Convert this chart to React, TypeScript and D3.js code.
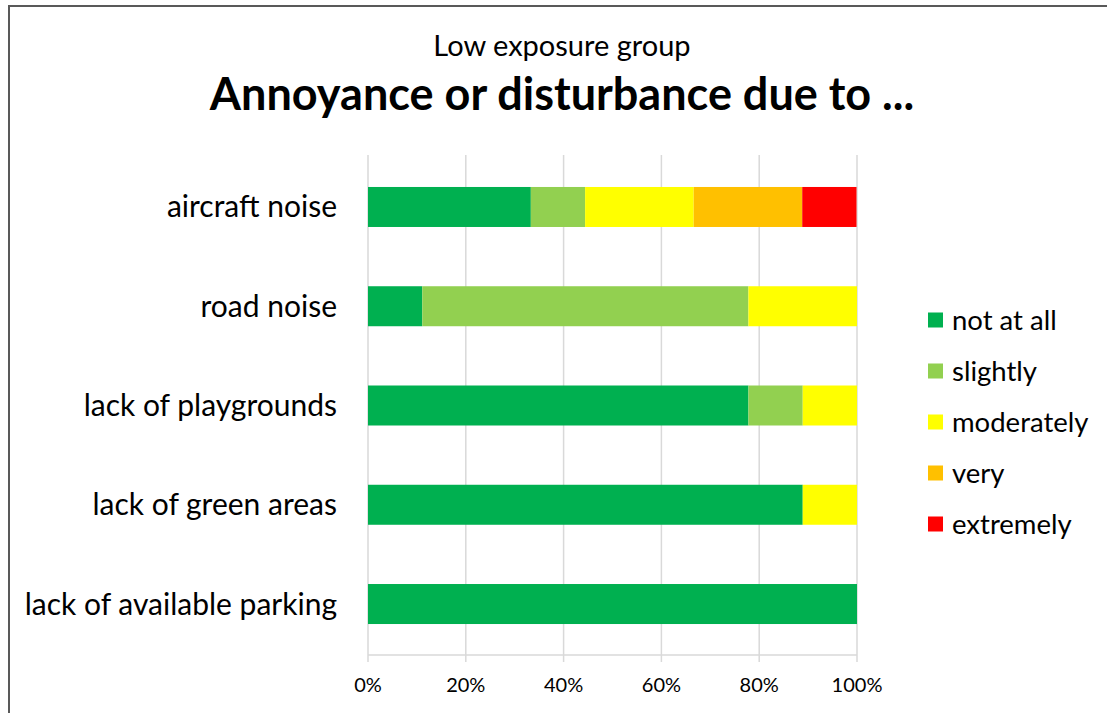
import React from "react";
import * as d3 from "d3";

const categories = [
  "aircraft noise",
  "road noise",
  "lack of playgrounds",
  "lack of green areas",
  "lack of available parking",
];
const seriesNames = ["not at all", "slightly", "moderately", "very", "extremely"];
const seriesColors = ["#00B050", "#92D050", "#FFFF00", "#FFC000", "#FF0000"];
// shares (fractions) per category, order of seriesNames
const notAtAll = [0.333, 0.111, 0.778, 0.889, 1.0];
const slightly = [0.111, 0.667, 0.111, 0.0, 0.0];
const moderately = [0.222, 0.222, 0.111, 0.111, 0.0];
const very = [0.222, 0.0, 0.0, 0.0, 0.0];
const extremely = [0.111, 0.0, 0.0, 0.0, 0.0];
const xTicks = [0, 0.2, 0.4, 0.6, 0.8, 1.0];
const subtitle = "Low exposure group";
const title = "Annoyance or disturbance due to ...";

const W = 1107;
const H = 713;
const FONT = "Lato, 'Open Sans', sans-serif";

export default function App() {
  const rows = categories.map((c, i) => ({
    cat: c,
    "not at all": notAtAll[i],
    slightly: slightly[i],
    moderately: moderately[i],
    very: very[i],
    extremely: extremely[i],
  }));
  const stack = d3.stack<any>().keys(seriesNames);
  const layers = stack(rows);

  const x = d3.scaleLinear().domain([0, 1]).range([368, 857]);
  const y = d3.scaleBand().domain(categories).range([157, 654]).paddingInner(0.597).paddingOuter(0.302);
  const color = d3.scaleOrdinal<string, string>().domain(seriesNames).range(seriesColors);
  const fmt = d3.format(".0%");

  const legendY = d3.scalePoint().domain(seriesNames).range([320, 524]);

  return (
    <svg
      width={W}
      height={H}
      style={{ position: "absolute", left: 0, top: 0, display: "block", background: "#fff" }}
    >
      <rect x={0} y={0} width={W} height={H} fill="#fff" />
      <rect x={9} y={6} width={W + 20} height={H + 20} fill="none" stroke="#595959" strokeWidth={2} />
      <text x={562} y={56} textAnchor="middle" fontFamily={FONT} fontSize={29} fill="#000">
        {subtitle}
      </text>
      <text x={562} y={110} textAnchor="middle" fontFamily={FONT} fontSize={45} fontWeight="bold" fill="#000">
        {title}
      </text>
      {/* gridlines */}
      {xTicks.map((t) => (
        <line key={t} x1={x(t)} x2={x(t)} y1={155} y2={662} stroke="#d9d9d9" strokeWidth={1.5} />
      ))}
      <line x1={x(0)} x2={x(1)} y1={655} y2={655} stroke="#d9d9d9" strokeWidth={1.5} />
      {/* bars */}
      {layers.map((layer) => (
        <g key={layer.key} fill={color(layer.key)}>
          {layer.map((d, i) =>
            d[1] - d[0] > 0 ? (
              <rect
                key={i}
                x={x(d[0])}
                y={y(categories[i])}
                width={x(d[1]) - x(d[0])}
                height={y.bandwidth()}
              />
            ) : null
          )}
        </g>
      ))}
      {/* category labels */}
      {categories.map((c) => (
        <text
          key={c}
          x={337}
          y={(y(c) as number) + y.bandwidth() / 2}
          dy="0.35em"
          textAnchor="end"
          fontFamily={FONT}
          fontSize={30}
          fill="#000"
        >
          {c}
        </text>
      ))}
      {/* tick labels */}
      {xTicks.map((t) => (
        <text key={t} x={x(t)} y={692} textAnchor="middle" fontFamily={FONT} fontSize={20} fill="#000">
          {fmt(t)}
        </text>
      ))}
      {/* legend */}
      {seriesNames.map((s) => (
        <g key={s} transform={`translate(928, ${legendY(s)})`}>
          <rect x={0} y={-7.5} width={15} height={15} fill={color(s)} />
          <text x={24} y={0} dy="0.35em" fontFamily={FONT} fontSize={27.5} fill="#000">
            {s}
          </text>
        </g>
      ))}
    </svg>
  );
}
